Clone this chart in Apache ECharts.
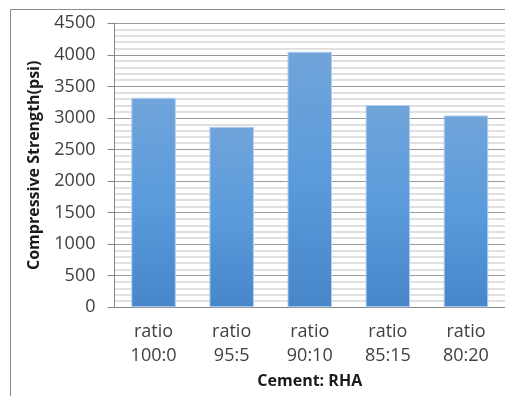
<!DOCTYPE html>
<html>
<head>
<meta charset="utf-8">
<script src="https://cdn.jsdelivr.net/npm/echarts@6/dist/echarts.min.js"></script>
<style>
  html, body { margin: 0; padding: 0; background: #fff; }
  #chart { width: 505px; height: 396px; }
</style>
</head>
<body>
<div id="chart"></div>
<script>
// Compressive strength of concrete for each cement : rice-husk-ash ratio
const categories = ['ratio\n100:0', 'ratio\n95:5', 'ratio\n90:10', 'ratio\n85:15', 'ratio\n80:20'];
const strengthPsi = [3320, 2860, 4050, 3205, 3040];
const yTicks = [0, 500, 1000, 1500, 2000, 2500, 3000, 3500, 4000, 4500];

const FONT = '"Open Sans", sans-serif';
const chart = echarts.init(document.getElementById('chart'), null, { renderer: 'canvas' });

chart.setOption({
  backgroundColor: '#ffffff',
  animation: false,
  graphic: [{
    type: 'rect',
    shape: { x: 10.5, y: 9.5, width: 700, height: 700 },
    style: { fill: 'none', stroke: '#8a8a8a', lineWidth: 1 },
    silent: true,
    z: -1
  }],
  grid: { left: 114.5, top: 23.3, width: 396.5, height: 284, containLabel: false },
  xAxis: {
    type: 'category',
    data: categories,
    name: 'Cement: RHA',
    nameLocation: 'middle',
    nameGap: 66,
    nameTextStyle: { fontFamily: FONT, fontWeight: 'bold', fontSize: 16, color: '#1a1a1a' },
    axisLine: { lineStyle: { color: '#868686', width: 1 } },
    axisTick: { show: false },
    axisLabel: { fontFamily: FONT, fontSize: 18, color: '#404040', lineHeight: 24, margin: 13 },
    splitLine: { show: false }
  },
  yAxis: {
    type: 'value',
    min: yTicks[0],
    max: yTicks[yTicks.length - 1],
    interval: yTicks[1] - yTicks[0],
    name: 'Compressive Strength(psi)',
    nameLocation: 'middle',
    nameGap: 72,
    nameTextStyle: { fontFamily: FONT, fontWeight: 'bold', fontSize: 16, color: '#1a1a1a' },
    axisLine: { show: true, lineStyle: { color: '#868686', width: 1 } },
    axisTick: { show: true, inside: false, length: 7, lineStyle: { color: '#868686' } },
    axisLabel: {
      fontFamily: FONT, fontSize: 18, color: '#404040', margin: 19,
      formatter: (v) => String(v)
    },
    splitLine: { show: true, lineStyle: { color: '#9a9a9a', width: 1 } },
    minorTick: { show: false, splitNumber: 5 },
    minorSplitLine: { show: true, lineStyle: { color: '#d6d6d6', width: 1.5 } }
  },
  series: [{
    type: 'bar',
    data: strengthPsi,
    barWidth: '57%',
    itemStyle: {
      color: new echarts.graphic.LinearGradient(0, 0, 0, 1, [
        { offset: 0, color: '#70a4da' },
        { offset: 0.5, color: '#5a9bdc' },
        { offset: 1, color: '#4686c9' }
      ]),
      borderColor: '#b3cfee',
      borderWidth: 1
    }
  }]
});
</script>
</body>
</html>
